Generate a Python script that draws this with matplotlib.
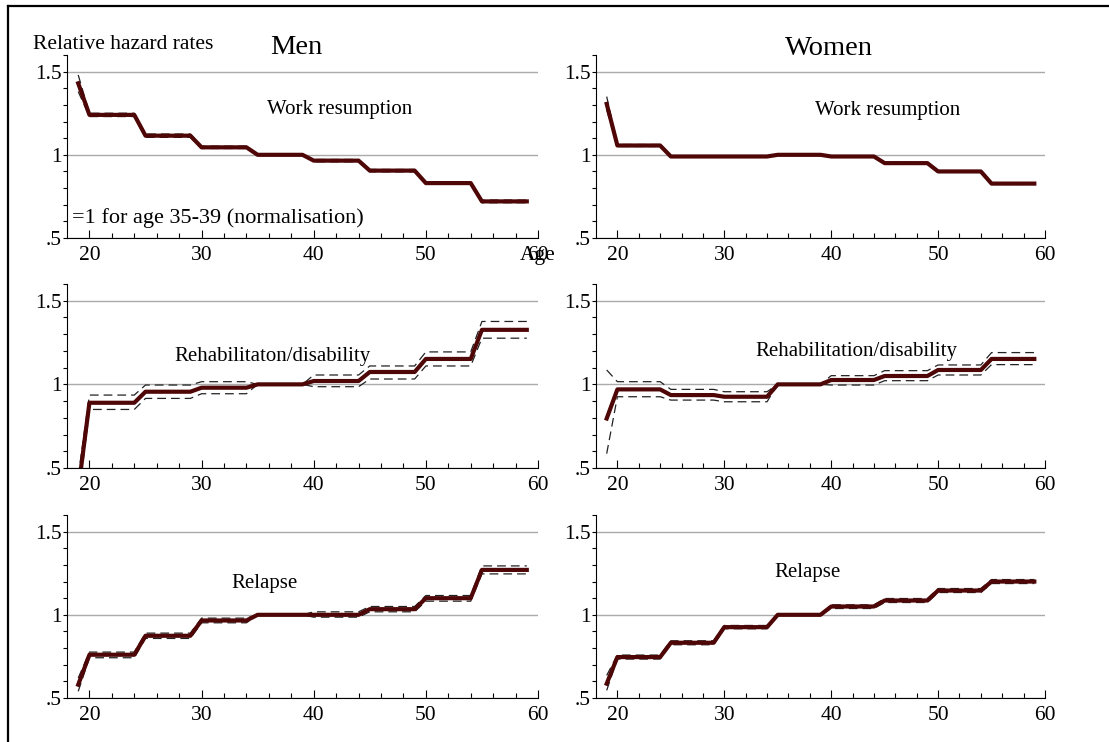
import numpy as np
import matplotlib.pyplot as plt
from matplotlib.lines import Line2D
from matplotlib.ticker import MultipleLocator, FixedLocator

plt.rcParams['font.family'] = ['Liberation Serif', 'DejaVu Serif']

# age groups: 19, 20-24, 25-29, ..., 55-59
ages = np.arange(19, 60)
group_len = [1, 5, 5, 5, 5, 5, 5, 5, 5]

# men
men_work = [1.43, 1.24, 1.115, 1.045, 1.0, 0.965, 0.905, 0.83, 0.72]
men_work_lo = [1.38, 1.23, 1.105, 1.038, 1.0, 0.958, 0.898, 0.823, 0.712]
men_work_hi = [1.48, 1.25, 1.125, 1.052, 1.0, 0.972, 0.912, 0.837, 0.728]
men_rehab = [0.37, 0.89, 0.956, 0.98, 1.0, 1.02, 1.074, 1.152, 1.326]
men_rehab_lo = [0.30, 0.85, 0.916, 0.944, 1.0, 0.986, 1.032, 1.11, 1.276]
men_rehab_hi = [0.45, 0.936, 0.996, 1.016, 1.0, 1.056, 1.11, 1.194, 1.376]
men_rel = [0.58, 0.76, 0.874, 0.966, 1.0, 1.0, 1.034, 1.10, 1.27]
men_rel_lo = [0.54, 0.742, 0.858, 0.952, 1.0, 0.986, 1.018, 1.082, 1.246]
men_rel_hi = [0.62, 0.776, 0.89, 0.98, 1.0, 1.018, 1.05, 1.116, 1.294]

# women
wom_work = [1.306, 1.056, 0.99, 0.99, 1.0, 0.99, 0.95, 0.90, 0.827]
wom_work_lo = [1.27, 1.05, 0.985, 0.986, 1.0, 0.986, 0.945, 0.895, 0.822]
wom_work_hi = [1.35, 1.062, 0.995, 0.994, 1.0, 0.994, 0.955, 0.905, 0.832]
wom_rehab = [0.796, 0.97, 0.936, 0.926, 1.0, 1.026, 1.05, 1.086, 1.152]
wom_rehab_lo = [0.586, 0.926, 0.906, 0.896, 1.0, 0.996, 1.022, 1.056, 1.118]
wom_rehab_hi = [1.086, 1.016, 0.97, 0.956, 1.0, 1.052, 1.082, 1.116, 1.19]
wom_rel = [0.586, 0.746, 0.832, 0.926, 1.0, 1.05, 1.086, 1.146, 1.2]
wom_rel_lo = [0.546, 0.734, 0.82, 0.916, 1.0, 1.038, 1.074, 1.134, 1.188]
wom_rel_hi = [0.636, 0.758, 0.844, 0.936, 1.0, 1.06, 1.098, 1.158, 1.212]

panels = [
    [(men_work, men_work_lo, men_work_hi, 'Work resumption', 42.35, 1.27),
     (wom_work, wom_work_lo, wom_work_hi, 'Work resumption', 45.3, 1.265)],
    [(men_rehab, men_rehab_lo, men_rehab_hi, 'Rehabilitaton/disability', 36.3, 1.166),
     (wom_rehab, wom_rehab_lo, wom_rehab_hi, 'Rehabilitation/disability', 42.4, 1.196)],
    [(men_rel, men_rel_lo, men_rel_hi, 'Relapse', 35.6, 1.19),
     (wom_rel, wom_rel_lo, wom_rel_hi, 'Relapse', 37.8, 1.257)],
]

W, H = 1109, 742
fig = plt.figure(figsize=(W / 100, H / 100), dpi=100)

col_pos = [(67, 538), (596, 1045)]
row_pos = [(55, 238), (284, 468), (515, 698)]

for r, row in enumerate(panels):
    for c, (val, lo, hi, label, tx, ty) in enumerate(row):
        x0, x1 = col_pos[c]
        y0, y1 = row_pos[r]
        ax = fig.add_axes([x0 / W, 1 - y1 / H, (x1 - x0) / W, (y1 - y0) / H])
        ax.set_xlim(18, 60)
        ax.set_ylim(0.5, 1.6)
        for s in ['top', 'right']:
            ax.spines[s].set_visible(False)
        ax.spines['bottom'].set_bounds(18, 60)
        ax.set_yticks([0.5, 1, 1.5])
        ax.set_yticklabels(['.5', '1', '1.5'])
        ax.yaxis.set_minor_locator(MultipleLocator(0.1))
        ax.set_xticks([20, 30, 40, 50, 60])
        ax.xaxis.set_minor_locator(FixedLocator(np.arange(22, 60, 2)))
        ax.tick_params(axis='y', which='both', direction='out', length=2.6, width=0.8, labelsize=15.5, pad=1)
        ax.tick_params(axis='x', which='major', direction='in', length=6, width=0.8, labelsize=15.5, pad=6)
        ax.tick_params(axis='x', which='minor', direction='in', length=3.5, width=0.8)
        ax.grid(axis='y', which='major', color='#aaaaaa', lw=1)
        ax.set_axisbelow(True)

        ax.plot(ages, np.repeat(lo, group_len), color='#222222', lw=0.9, ls=(0, (7, 4)))
        ax.plot(ages, np.repeat(hi, group_len), color='#222222', lw=0.9, ls=(0, (7, 4)))
        ax.plot(ages, np.repeat(val, group_len), color='#4e0606', lw=3)
        ax.text(tx, ty, label, ha='center', va='center', fontsize=15)

        if r == 0 and c == 0:
            ax.text(18.45, 0.62, '=1 for age 35-39 (normalisation)', ha='left', va='center', fontsize=16)
            ax.annotate('Age', xy=(60, 0), xycoords=('data', 'axes fraction'),
                        xytext=(0, -6), textcoords='offset points', ha='center', va='top', fontsize=15.5)

fig.text(296.5 / W, 1 - 54 / H, 'Men', ha='center', va='baseline', fontsize=20.5)
fig.text(829 / W, 1 - 55 / H, 'Women', ha='center', va='baseline', fontsize=20.5)
fig.text(33 / W, 1 - 49 / H, 'Relative hazard rates', ha='left', va='baseline', fontsize=15.5)

# frame lines (left and top)
fig.add_artist(Line2D([8 / W, 8 / W], [0, 1 - 6 / H], color='black', lw=1.6))
fig.add_artist(Line2D([8 / W, 1], [1 - 6 / H, 1 - 6 / H], color='black', lw=1.6))

fig.savefig('out.png', dpi=100)
